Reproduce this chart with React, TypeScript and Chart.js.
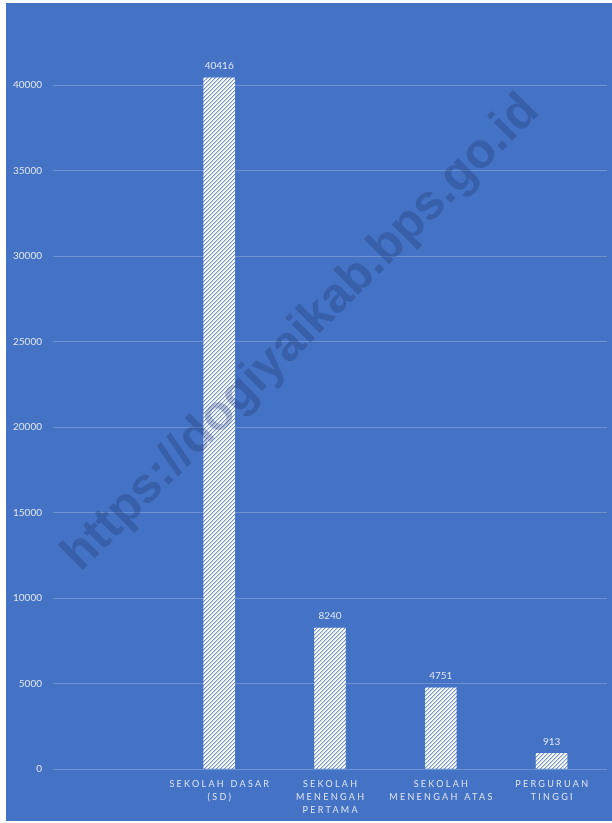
import React, { useEffect, useRef } from "react";
import { Chart, registerables } from "chart.js";

Chart.register(...registerables);

// Categories (each entry is the lines of its axis label); the first slot is left empty
const categoryLines: string[][] = [
  [],
  ["SEKOLAH DASAR", "(SD)"],
  ["SEKOLAH", "MENENGAH", "PERTAMA"],
  ["SEKOLAH", "MENENGAH ATAS"],
  ["PERGURUAN", "TINGGI"],
];
const categoryNames: string[] = ["", "Sekolah Dasar (SD)", "Sekolah Menengah Pertama", "Sekolah Menengah Atas", "Perguruan Tinggi"];
const studentCounts: (number | null)[] = [null, 40416, 8240, 4751, 913];
const yMax = 45000;
const yStep = 5000;
const watermarkText = "https://dogiyaikab.bps.go.id";

const W = 612;
const H = 823;
const OFFSET = 20; // canvas extends above the page so the top tick row is cropped

const BG = "#4472C4";
const TEXT = "#dfe6f3";

function makeStripePattern(): CanvasPattern | string {
  const tile = document.createElement("canvas");
  tile.width = 4;
  tile.height = 4;
  const t = tile.getContext("2d");
  if (!t) return "#ffffff";
  t.fillStyle = "#ffffff";
  t.fillRect(0, 0, 4, 4);
  for (let y = 0; y < 4; y++) {
    for (let x = 0; x < 4; x++) {
      const k = (x + y) % 4;
      if (k === 0) {
        t.fillStyle = "#7396d4";
        t.fillRect(x, y, 1, 1);
      } else if (k === 1) {
        t.fillStyle = "#c3d2ee";
        t.fillRect(x, y, 1, 1);
      }
    }
  }
  const p = t.createPattern(tile, "repeat");
  return p || "#ffffff";
}

const decorPlugin = {
  id: "decor",
  beforeDraw(chart: any) {
    const ctx = chart.ctx as CanvasRenderingContext2D;
    ctx.save();
    ctx.fillStyle = BG;
    ctx.fillRect(0, 0, chart.width, chart.height);
    ctx.restore();
  },
  afterDraw(chart: any) {
    const ctx = chart.ctx as CanvasRenderingContext2D;
    const xScale = chart.scales.x;
    const meta = chart.getDatasetMeta(0);

    // value labels above the bars
    ctx.save();
    ctx.fillStyle = TEXT;
    ctx.font = "10px Lato, 'Open Sans', sans-serif";
    ctx.textAlign = "center";
    ctx.textBaseline = "middle";
    meta.data.forEach((bar: any, i: number) => {
      const v = studentCounts[i];
      if (v == null) return;
      ctx.fillText(String(v), bar.x, bar.y - 12);
    });
    ctx.restore();

    // letter-spaced category labels
    ctx.save();
    ctx.fillStyle = TEXT;
    ctx.font = "9px Lato, 'Open Sans', sans-serif";
    (ctx as any).letterSpacing = "2.3px";
    ctx.textAlign = "center";
    ctx.textBaseline = "middle";
    const firstLine = chart.chartArea.bottom + 15.5;
    categoryLines.forEach((lines, i) => {
      const cx = xScale.getPixelForValue(i) + 1.15;
      lines.forEach((line, j) => {
        ctx.fillText(line, cx, firstLine + j * 13);
      });
    });
    ctx.restore();

    // watermark
    ctx.save();
    ctx.translate(301, 333 + OFFSET);
    ctx.rotate((-45 * Math.PI) / 180);
    ctx.font = "bold 49px 'Liberation Sans', Arial, sans-serif";
    ctx.fillStyle = "rgba(20, 40, 90, 0.25)";
    ctx.textAlign = "center";
    ctx.textBaseline = "middle";
    ctx.fillText(watermarkText, 0, 0);
    ctx.restore();

    // white page margins around the blue panel
    ctx.save();
    ctx.fillStyle = "#ffffff";
    ctx.fillRect(0, 0, chart.width, OFFSET + 3);
    ctx.fillRect(0, 0, 6, chart.height);
    ctx.fillRect(0, OFFSET + H - 2, chart.width, 10);
    ctx.restore();
  },
};

export default function App() {
  const ref = useRef<HTMLCanvasElement | null>(null);

  useEffect(() => {
    const canvas = ref.current;
    if (!canvas) return;
    const chart = new Chart(canvas, {
      type: "bar",
      data: {
        labels: categoryNames,
        datasets: [
          {
            label: "Jumlah",
            data: studentCounts,
            backgroundColor: makeStripePattern() as any,
            borderWidth: 0,
            barThickness: 31,
            clip: false as any,
          },
        ],
      },
      options: {
        responsive: false,
        animation: false,
        devicePixelRatio: 1,
        layout: { padding: { top: OFFSET - 0.5, right: 5, left: 0, bottom: 0 } },
        plugins: {
          legend: { display: false },
          tooltip: { enabled: false },
          title: { display: false },
        },
        scales: {
          x: {
            grid: { display: false, drawTicks: false },
            border: { display: false },
            ticks: { display: false },
            afterFit: (s: any) => {
              s.height = 54;
            },
          },
          y: {
            min: 0,
            max: yMax,
            grid: {
              color: "rgba(255,255,255,0.22)",
              lineWidth: 1,
              drawTicks: false,
            },
            border: { display: false },
            ticks: {
              stepSize: yStep,
              padding: 11,
              color: TEXT,
              font: { family: "Lato, 'Open Sans', sans-serif", size: 10 },
              callback: (v: any) => String(v),
            },
            afterFit: (s: any) => {
              s.width = 53;
            },
          },
        },
      },
      plugins: [decorPlugin],
    });
    return () => chart.destroy();
  }, []);

  return (
    <div style={{ position: "fixed", left: 0, top: 0, width: W, height: H, background: "#ffffff", overflow: "hidden" }}>
      <canvas
        ref={ref}
        width={W}
        height={H + OFFSET}
        style={{ position: "absolute", left: 0, top: -OFFSET, width: W, height: H + OFFSET, display: "block" }}
      />
    </div>
  );
}
